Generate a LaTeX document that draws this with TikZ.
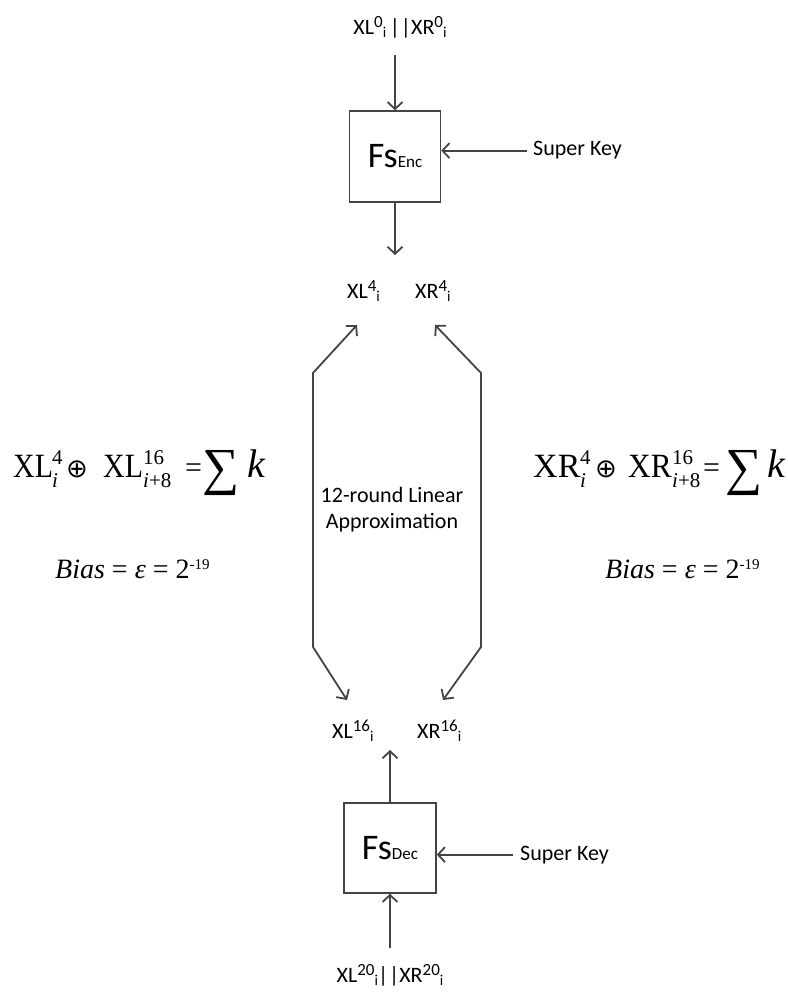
\documentclass[tikz,border=0pt]{standalone}
\usepackage{fontspec}
\setmainfont{Carlito}
\newfontfamily\tms{Liberation Serif}
\newfontfamily\djv{DejaVu Sans}
\usetikzlibrary{arrows.meta}
\definecolor{lc}{RGB}{68,68,68}
\newcommand\Sp[1]{\raisebox{7pt}{\fontsize{17}{17}\selectfont #1}}
\newcommand\Sb[1]{\raisebox{-3pt}{\fontsize{15}{15}\selectfont #1}}
\newcommand\TSS[3]{\makebox[#3][l]{\rlap{\raisebox{13pt}{\fontsize{21}{21}\selectfont #1}}\raisebox{-10pt}{\fontsize{21}{21}\selectfont #2}}}
\newcommand\Opl{\raisebox{0pt}{\djv\fontsize{26}{26}\selectfont ⊕}}
\newcommand\Eq{{\fontsize{30}{30}\selectfont =}}
\newcommand\Sig{\raisebox{-7pt}{\fontsize{52}{52}\selectfont ∑}}
\newcommand\Kk{{\fontsize{40}{40}\selectfont\textit{k}}}
\newcommand\BiasTxt{\textit{Bias} = \textit{ε} = 2\raisebox{9pt}{\fontsize{15}{15}\selectfont -19}}
\begin{document}
\begin{tikzpicture}[x=1pt,y=-1pt,
  lbl/.style={inner sep=0pt, font=\fontsize{22}{26}\selectfont, text=black},
  fbox/.style={draw=lc, line width=1.5pt, minimum width=91pt, minimum height=91pt, inner sep=0pt, font=\fontsize{36}{40}\selectfont},
  arr/.style={draw=lc, line width=1.8pt, -{Straight Barb[length=7pt,width=15pt]}},
  dbl/.style={draw=lc, line width=1.8pt, {Straight Barb[length=7pt,width=15pt]}-{Straight Barb[length=7pt,width=15pt]}},
  fml/.style={inner sep=0pt, font=\tms\fontsize{34}{38}\selectfont},
  bias/.style={inner sep=0pt, font=\tms\fontsize{28}{30}\selectfont}]
\useasboundingbox[fill=white] (0,0) rectangle (787,992);

% encryption part
\node[lbl, anchor=base] (in0) at (400,35) {XL\Sp{0}\Sb{i}\,|\kern1pt|XR\Sp{0}\Sb{i}};
\node[fbox] (enc) at (395,156.5) {Fs{\fontsize{17}{17}\selectfont Enc}};
\node[lbl, anchor=base west] (sk1) at (533,156) {Super Key};
\coordinate (o4) at (395,255);
\node[lbl, anchor=base west] (xl4) at (347,298) {XL\Sp{4}\Sb{i}};
\node[lbl, anchor=base west] (xr4) at (415,298) {XR\Sp{4}\Sb{i}};
\draw[arr] ([yshift=-20pt]in0.base -| enc.north) -- (enc.north);
\draw[arr, shorten <=6pt] (sk1.west) -- (sk1.west -| enc.east);
\draw[arr] (enc.south) -- (o4);

% linear approximation
\coordinate (lt) at (357,325);
\coordinate (lb) at (347,700);
\coordinate (rt) at (435,325);
\coordinate (rb) at (443,700);
\draw[dbl] (lb) -- ++(-34,-53) -- ++(0,-274) -- (lt);
\draw[dbl] (rb) -- ++(38,-53) -- ++(0,-274) -- (rt);
\node[lbl, align=center] (lin) at (392,510) {12-round Linear\\Approximation};

% formulas
\node[fml, anchor=base west] (eqL) at (13,477) {\makebox[39pt][l]{\scalebox{.88}[1]{XL}}\TSS{4}{\textit{i}}{14pt}\makebox[37pt][l]{\Opl}\makebox[40pt][l]{\scalebox{.88}[1]{XL}}\TSS{16}{\textit{i}+8}{42pt}\makebox[17pt][l]{\Eq}\makebox[45pt][l]{\Sig}\Kk};
\node[fml, anchor=base west] (eqR) at (533,477) {\makebox[47pt][l]{XR}\TSS{4}{\textit{i}}{15pt}\makebox[33pt][l]{\Opl}\makebox[44pt][l]{\scalebox{.92}[1]{XR}}\TSS{16}{\textit{i}+8}{31pt}\makebox[22pt][l]{\Eq}\makebox[42pt][l]{\Sig}\Kk};
\node[bias, anchor=base west] (biasL) at (55,578) {\BiasTxt};
\node[bias, anchor=base west] (biasR) at (605,578) {\BiasTxt};

% decryption part
\node[lbl, anchor=base west] (xl16) at (332,738) {XL\Sp{16}\Sb{i}};
\node[lbl, anchor=base west] (xr16) at (417,738) {XR\Sp{16}\Sb{i}};
\coordinate (o16) at (390,750);
\node[fbox, minimum width=92pt, minimum height=90pt] (dec) at (390,848) {Fs{\fontsize{17}{17}\selectfont Dec}};
\node[lbl, anchor=base west] (sk2) at (520,860) {Super Key};
\node[lbl, anchor=base] (in20) at (390,982) {XL\Sp{20}\Sb{i}|\kern1pt|XR\Sp{20}\Sb{i}};
\draw[arr] (dec.north) -- (o16);
\draw[arr, shorten <=7pt] (sk2.west) -- (sk2.west -| dec.east);
\draw[arr] ([yshift=34pt]in20.base -| dec.south) -- (dec.south);
\end{tikzpicture}
\end{document}
